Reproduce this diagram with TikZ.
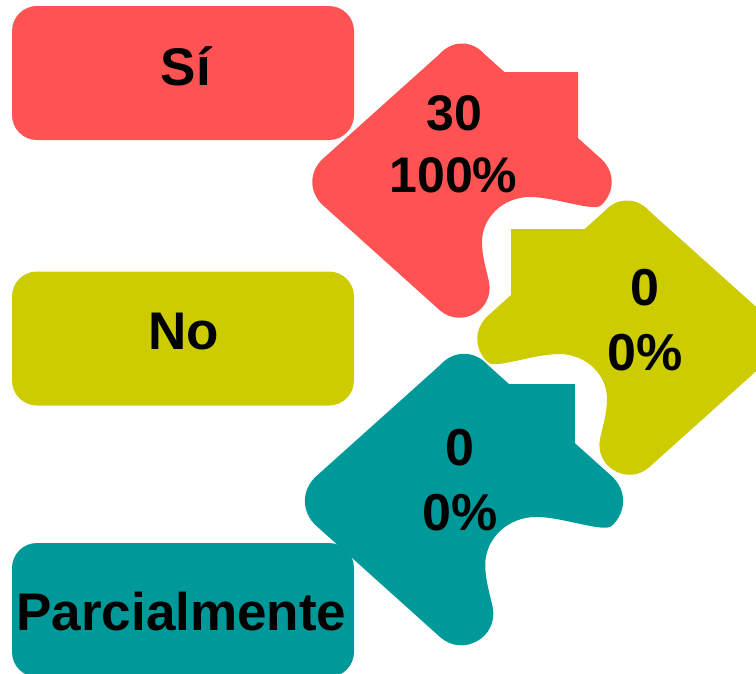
\documentclass[tikz,border=0pt]{standalone}
\usepackage{fontspec}
\setmainfont{Liberation Sans}
\definecolor{redc}{HTML}{FF5252}
\definecolor{yelc}{HTML}{CCCC00}
\definecolor{tealc}{HTML}{009999}
\newcommand\piecepath[1]{(-82.5,-74) -- (-22.3,-128) .. controls (-10,-142) and (10,-142) .. (22.3,-128)
 -- (42.4,-110) -- (#1,-110) -- (#1,{-148*(1-#1/165)}) -- (138.9,-23.4)
 .. controls (153.3,-10.5) and (153.3,10.5) .. (138.9,23.4)
 .. controls (131.5,30.1) and (93,15) .. (68,15)
 .. controls (41.5,15) and (20,35) .. (20,60)
 .. controls (20,75) and (24.6,88.2) .. (27,100)
 .. controls (32.6,128.2) and (-1,147.2) .. (-22.5,128)
 -- (-138.9,23.4) .. controls (-153.3,10.5) and (-153.3,-10.5) .. (-138.9,-23.4) -- cycle}
\begin{document}
\begin{tikzpicture}[x=1pt,y=-1pt,
  box/.style={rounded corners=25pt, minimum width=342pt, minimum height=134pt, inner sep=0pt},
  lbl/.style={font=\fontsize{53}{60}\selectfont\bfseries, anchor=base, inner sep=0pt},
  numa/.style={font=\fontsize{50}{60}\selectfont\bfseries, anchor=base, inner sep=0pt},
  numb/.style={font=\fontsize{52}{60}\selectfont\bfseries, anchor=base, inner sep=0pt}]
\useasboundingbox (0,0) rectangle (756,673);
\clip (0,0) rectangle (756,673);
% legend boxes
\node[box, fill=redc] (bsi) at (183,73) {};
\node[box, fill=yelc] (bno) at (183,338.5) {};
\node[box, fill=tealc] (bpa) at (183,610) {};
% puzzle pieces
\fill[redc, shift={(462,182)}] \piecepath{116};
\fill[yelc, shift={(627,339)}, xscale=-1] \piecepath{116};
\fill[tealc, shift={(464,501)}, scale=1.063] \piecepath{104.4};
% labels
\node[lbl] (tsi) at (186,85) {Sí};
\node[lbl] (tno) at (183.5,349) {No};
\node[lbl] (tpa) at (181.5,630) {Parcialmente};
% values
\node[numa] (r1) at (454.5,130) {30};
\node[numa] (r2) at (453.5,192) {100\%};
\node[numb] (y1) at (645,305) {0};
\node[numb] (y2) at (645.5,370) {0\%};
\node[numb] (t1) at (460,465) {0};
\node[numb] (t2) at (460.5,530) {0\%};
\end{tikzpicture}
\end{document}
